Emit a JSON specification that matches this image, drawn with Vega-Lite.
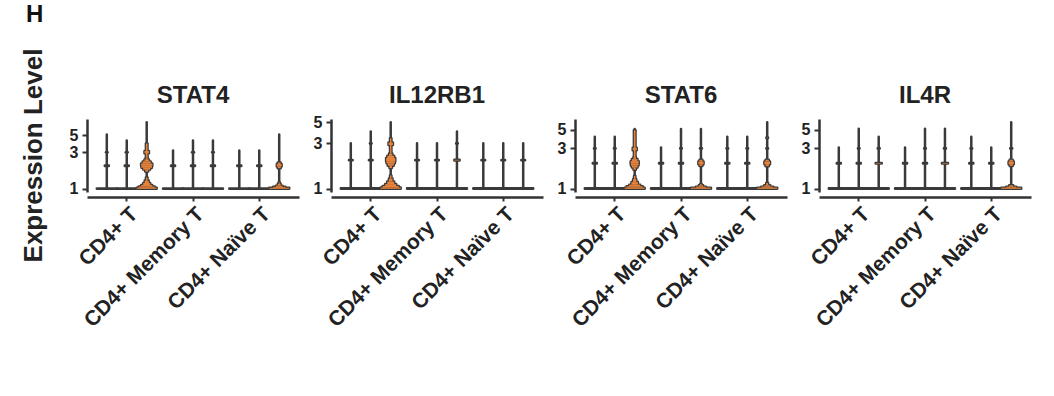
{
"$schema": "https://vega.github.io/schema/vega-lite/v6.json",
"padding": {"left": 20, "top": 2, "right": 5, "bottom": 5},
"background": "white",
"title": {"text": "H", "anchor": "start", "fontSize": 24, "fontWeight": "bold", "font": "Liberation Sans", "color": "#111", "offset": 22, "dx": 5},
"config": {
  "view": {"stroke": null},
  "axis": {"domainColor": "#333", "tickColor": "#333", "labelColor": "#222", "labelFont": "Liberation Sans", "titleFont": "Liberation Sans", "grid": false}
},
"datasets": {"v": [
{"gene":"STAT4","group":"CD4+ T","cond":"a","lo":1,"hi":1.012,"w":1},
{"gene":"STAT4","group":"CD4+ T","cond":"a","lo":1,"hi":5.1,"w":0},
{"gene":"STAT4","group":"CD4+ T","cond":"a","lo":1.99,"hi":2.01,"w":0.2},
{"gene":"STAT4","group":"CD4+ T","cond":"a","lo":2.99,"hi":3.01,"w":0.08},
{"gene":"STAT4","group":"CD4+ T","cond":"b","lo":1,"hi":1.012,"w":1},
{"gene":"STAT4","group":"CD4+ T","cond":"b","lo":1,"hi":4.27,"w":0},
{"gene":"STAT4","group":"CD4+ T","cond":"b","lo":1.99,"hi":2.01,"w":0.2},
{"gene":"STAT4","group":"CD4+ T","cond":"b","lo":2.99,"hi":3.01,"w":0.1},
{"gene":"STAT4","group":"CD4+ T","cond":"c","lo":1,"hi":7.4,"w":0},
{"gene":"STAT4","group":"CD4+ T","cond":"c","lo":1,"hi":1.03,"w":1},
{"gene":"STAT4","group":"CD4+ T","cond":"c","lo":1.03,"hi":1.07,"w":0.8},
{"gene":"STAT4","group":"CD4+ T","cond":"c","lo":1.07,"hi":1.12,"w":0.55},
{"gene":"STAT4","group":"CD4+ T","cond":"c","lo":1.12,"hi":1.19,"w":0.35},
{"gene":"STAT4","group":"CD4+ T","cond":"c","lo":1.19,"hi":1.28,"w":0.2},
{"gene":"STAT4","group":"CD4+ T","cond":"c","lo":1.28,"hi":1.4,"w":0.08},
{"gene":"STAT4","group":"CD4+ T","cond":"c","lo":1.68,"hi":1.78,"w":0.15},
{"gene":"STAT4","group":"CD4+ T","cond":"c","lo":1.78,"hi":1.88,"w":0.35},
{"gene":"STAT4","group":"CD4+ T","cond":"c","lo":1.88,"hi":2.0,"w":0.52},
{"gene":"STAT4","group":"CD4+ T","cond":"c","lo":2.0,"hi":2.14,"w":0.56},
{"gene":"STAT4","group":"CD4+ T","cond":"c","lo":2.14,"hi":2.28,"w":0.4},
{"gene":"STAT4","group":"CD4+ T","cond":"c","lo":2.28,"hi":2.42,"w":0.22},
{"gene":"STAT4","group":"CD4+ T","cond":"c","lo":2.42,"hi":2.56,"w":0.08},
{"gene":"STAT4","group":"CD4+ T","cond":"c","lo":2.56,"hi":3.9,"w":0.08},
{"gene":"STAT4","group":"CD4+ T","cond":"c","lo":2.9,"hi":3.12,"w":0.22},
{"gene":"STAT4","group":"CD4+ Memory T","cond":"a","lo":1,"hi":1.012,"w":1},
{"gene":"STAT4","group":"CD4+ Memory T","cond":"a","lo":1,"hi":3.17,"w":0},
{"gene":"STAT4","group":"CD4+ Memory T","cond":"a","lo":1.99,"hi":2.01,"w":0.2},
{"gene":"STAT4","group":"CD4+ Memory T","cond":"b","lo":1,"hi":1.012,"w":1},
{"gene":"STAT4","group":"CD4+ Memory T","cond":"b","lo":1,"hi":4.27,"w":0},
{"gene":"STAT4","group":"CD4+ Memory T","cond":"b","lo":1.99,"hi":2.01,"w":0.2},
{"gene":"STAT4","group":"CD4+ Memory T","cond":"b","lo":2.99,"hi":3.01,"w":0.1},
{"gene":"STAT4","group":"CD4+ Memory T","cond":"c","lo":1,"hi":1.012,"w":1},
{"gene":"STAT4","group":"CD4+ Memory T","cond":"c","lo":1,"hi":4.27,"w":0},
{"gene":"STAT4","group":"CD4+ Memory T","cond":"c","lo":1.99,"hi":2.01,"w":0.2},
{"gene":"STAT4","group":"CD4+ Memory T","cond":"c","lo":2.99,"hi":3.01,"w":0.08},
{"gene":"STAT4","group":"CD4+ Naïve T","cond":"a","lo":1,"hi":1.012,"w":1},
{"gene":"STAT4","group":"CD4+ Naïve T","cond":"a","lo":1,"hi":3.17,"w":0},
{"gene":"STAT4","group":"CD4+ Naïve T","cond":"a","lo":1.99,"hi":2.01,"w":0.2},
{"gene":"STAT4","group":"CD4+ Naïve T","cond":"b","lo":1,"hi":1.012,"w":1},
{"gene":"STAT4","group":"CD4+ Naïve T","cond":"b","lo":1,"hi":3.17,"w":0},
{"gene":"STAT4","group":"CD4+ Naïve T","cond":"b","lo":1.99,"hi":2.01,"w":0.2},
{"gene":"STAT4","group":"CD4+ Naïve T","cond":"c","lo":1,"hi":5.1,"w":0},
{"gene":"STAT4","group":"CD4+ Naïve T","cond":"c","lo":1,"hi":1.03,"w":1},
{"gene":"STAT4","group":"CD4+ Naïve T","cond":"c","lo":1.03,"hi":1.06,"w":0.6},
{"gene":"STAT4","group":"CD4+ Naïve T","cond":"c","lo":1.06,"hi":1.1,"w":0.32},
{"gene":"STAT4","group":"CD4+ Naïve T","cond":"c","lo":1.1,"hi":1.16,"w":0.14},
{"gene":"STAT4","group":"CD4+ Naïve T","cond":"c","lo":1.16,"hi":1.22,"w":0.05},
{"gene":"STAT4","group":"CD4+ Naïve T","cond":"c","lo":1.86,"hi":1.95,"w":0.14},
{"gene":"STAT4","group":"CD4+ Naïve T","cond":"c","lo":1.95,"hi":2.1,"w":0.24},
{"gene":"STAT4","group":"CD4+ Naïve T","cond":"c","lo":2.1,"hi":2.2,"w":0.14},

{"gene":"IL12RB1","group":"CD4+ T","cond":"a","lo":1,"hi":1.012,"w":1},
{"gene":"IL12RB1","group":"CD4+ T","cond":"a","lo":1,"hi":3.0,"w":0},
{"gene":"IL12RB1","group":"CD4+ T","cond":"a","lo":1.99,"hi":2.01,"w":0.18},
{"gene":"IL12RB1","group":"CD4+ T","cond":"b","lo":1,"hi":1.012,"w":1},
{"gene":"IL12RB1","group":"CD4+ T","cond":"b","lo":1,"hi":4.0,"w":0},
{"gene":"IL12RB1","group":"CD4+ T","cond":"b","lo":1.99,"hi":2.01,"w":0.18},
{"gene":"IL12RB1","group":"CD4+ T","cond":"b","lo":2.99,"hi":3.01,"w":0.08},
{"gene":"IL12RB1","group":"CD4+ T","cond":"c","lo":1,"hi":5.0,"w":0},
{"gene":"IL12RB1","group":"CD4+ T","cond":"c","lo":1,"hi":1.03,"w":1},
{"gene":"IL12RB1","group":"CD4+ T","cond":"c","lo":1.03,"hi":1.07,"w":0.8},
{"gene":"IL12RB1","group":"CD4+ T","cond":"c","lo":1.07,"hi":1.12,"w":0.55},
{"gene":"IL12RB1","group":"CD4+ T","cond":"c","lo":1.12,"hi":1.19,"w":0.35},
{"gene":"IL12RB1","group":"CD4+ T","cond":"c","lo":1.19,"hi":1.28,"w":0.18},
{"gene":"IL12RB1","group":"CD4+ T","cond":"c","lo":1.28,"hi":1.38,"w":0.07},
{"gene":"IL12RB1","group":"CD4+ T","cond":"c","lo":1.65,"hi":1.75,"w":0.12},
{"gene":"IL12RB1","group":"CD4+ T","cond":"c","lo":1.75,"hi":1.85,"w":0.3},
{"gene":"IL12RB1","group":"CD4+ T","cond":"c","lo":1.85,"hi":1.95,"w":0.42},
{"gene":"IL12RB1","group":"CD4+ T","cond":"c","lo":1.95,"hi":2.1,"w":0.46},
{"gene":"IL12RB1","group":"CD4+ T","cond":"c","lo":2.1,"hi":2.22,"w":0.34},
{"gene":"IL12RB1","group":"CD4+ T","cond":"c","lo":2.22,"hi":2.34,"w":0.16},
{"gene":"IL12RB1","group":"CD4+ T","cond":"c","lo":2.34,"hi":3.4,"w":0.07},
{"gene":"IL12RB1","group":"CD4+ T","cond":"c","lo":2.88,"hi":3.06,"w":0.22},
{"gene":"IL12RB1","group":"CD4+ Memory T","cond":"a","lo":1,"hi":1.012,"w":1},
{"gene":"IL12RB1","group":"CD4+ Memory T","cond":"a","lo":1,"hi":3.0,"w":0},
{"gene":"IL12RB1","group":"CD4+ Memory T","cond":"a","lo":1.99,"hi":2.01,"w":0.18},
{"gene":"IL12RB1","group":"CD4+ Memory T","cond":"b","lo":1,"hi":1.012,"w":1},
{"gene":"IL12RB1","group":"CD4+ Memory T","cond":"b","lo":1,"hi":3.0,"w":0},
{"gene":"IL12RB1","group":"CD4+ Memory T","cond":"b","lo":1.99,"hi":2.01,"w":0.18},
{"gene":"IL12RB1","group":"CD4+ Memory T","cond":"c","lo":1,"hi":1.012,"w":1},
{"gene":"IL12RB1","group":"CD4+ Memory T","cond":"c","lo":1,"hi":4.0,"w":0},
{"gene":"IL12RB1","group":"CD4+ Memory T","cond":"c","lo":1.985,"hi":2.015,"w":0.26},
{"gene":"IL12RB1","group":"CD4+ Memory T","cond":"c","lo":2.99,"hi":3.01,"w":0.08},
{"gene":"IL12RB1","group":"CD4+ Naïve T","cond":"a","lo":1,"hi":1.012,"w":1},
{"gene":"IL12RB1","group":"CD4+ Naïve T","cond":"a","lo":1,"hi":3.0,"w":0},
{"gene":"IL12RB1","group":"CD4+ Naïve T","cond":"a","lo":1.99,"hi":2.01,"w":0.18},
{"gene":"IL12RB1","group":"CD4+ Naïve T","cond":"b","lo":1,"hi":1.012,"w":1},
{"gene":"IL12RB1","group":"CD4+ Naïve T","cond":"b","lo":1,"hi":3.0,"w":0},
{"gene":"IL12RB1","group":"CD4+ Naïve T","cond":"b","lo":1.99,"hi":2.01,"w":0.18},
{"gene":"IL12RB1","group":"CD4+ Naïve T","cond":"c","lo":1,"hi":1.012,"w":1},
{"gene":"IL12RB1","group":"CD4+ Naïve T","cond":"c","lo":1,"hi":3.0,"w":0},
{"gene":"IL12RB1","group":"CD4+ Naïve T","cond":"c","lo":1.99,"hi":2.01,"w":0.18},

{"gene":"STAT6","group":"CD4+ T","cond":"a","lo":1,"hi":1.012,"w":1},
{"gene":"STAT6","group":"CD4+ T","cond":"a","lo":1,"hi":4.12,"w":0},
{"gene":"STAT6","group":"CD4+ T","cond":"a","lo":1.99,"hi":2.01,"w":0.2},
{"gene":"STAT6","group":"CD4+ T","cond":"a","lo":2.99,"hi":3.01,"w":0.08},
{"gene":"STAT6","group":"CD4+ T","cond":"b","lo":1,"hi":1.012,"w":1},
{"gene":"STAT6","group":"CD4+ T","cond":"b","lo":1,"hi":4.12,"w":0},
{"gene":"STAT6","group":"CD4+ T","cond":"b","lo":1.99,"hi":2.01,"w":0.2},
{"gene":"STAT6","group":"CD4+ T","cond":"b","lo":2.99,"hi":3.01,"w":0.08},
{"gene":"STAT6","group":"CD4+ T","cond":"c","lo":1,"hi":5.08,"w":0},
{"gene":"STAT6","group":"CD4+ T","cond":"c","lo":1,"hi":1.03,"w":1},
{"gene":"STAT6","group":"CD4+ T","cond":"c","lo":1.03,"hi":1.07,"w":0.8},
{"gene":"STAT6","group":"CD4+ T","cond":"c","lo":1.07,"hi":1.12,"w":0.55},
{"gene":"STAT6","group":"CD4+ T","cond":"c","lo":1.12,"hi":1.2,"w":0.32},
{"gene":"STAT6","group":"CD4+ T","cond":"c","lo":1.2,"hi":1.3,"w":0.16},
{"gene":"STAT6","group":"CD4+ T","cond":"c","lo":1.3,"hi":1.42,"w":0.07},
{"gene":"STAT6","group":"CD4+ T","cond":"c","lo":1.68,"hi":1.78,"w":0.12},
{"gene":"STAT6","group":"CD4+ T","cond":"c","lo":1.78,"hi":1.88,"w":0.28},
{"gene":"STAT6","group":"CD4+ T","cond":"c","lo":1.88,"hi":2.0,"w":0.38},
{"gene":"STAT6","group":"CD4+ T","cond":"c","lo":2.0,"hi":2.12,"w":0.4},
{"gene":"STAT6","group":"CD4+ T","cond":"c","lo":2.12,"hi":2.24,"w":0.28},
{"gene":"STAT6","group":"CD4+ T","cond":"c","lo":2.24,"hi":2.36,"w":0.12},
{"gene":"STAT6","group":"CD4+ T","cond":"c","lo":2.36,"hi":4.9,"w":0.08},
{"gene":"STAT6","group":"CD4+ T","cond":"c","lo":2.85,"hi":3.05,"w":0.2},
{"gene":"STAT6","group":"CD4+ Memory T","cond":"a","lo":1,"hi":1.012,"w":1},
{"gene":"STAT6","group":"CD4+ Memory T","cond":"a","lo":1,"hi":3.07,"w":0},
{"gene":"STAT6","group":"CD4+ Memory T","cond":"a","lo":1.99,"hi":2.01,"w":0.2},
{"gene":"STAT6","group":"CD4+ Memory T","cond":"b","lo":1,"hi":1.012,"w":1},
{"gene":"STAT6","group":"CD4+ Memory T","cond":"b","lo":1,"hi":5.08,"w":0},
{"gene":"STAT6","group":"CD4+ Memory T","cond":"b","lo":1.99,"hi":2.01,"w":0.2},
{"gene":"STAT6","group":"CD4+ Memory T","cond":"b","lo":2.99,"hi":3.01,"w":0.08},
{"gene":"STAT6","group":"CD4+ Memory T","cond":"c","lo":1,"hi":5.08,"w":0},
{"gene":"STAT6","group":"CD4+ Memory T","cond":"c","lo":1,"hi":1.03,"w":1},
{"gene":"STAT6","group":"CD4+ Memory T","cond":"c","lo":1.03,"hi":1.06,"w":0.5},
{"gene":"STAT6","group":"CD4+ Memory T","cond":"c","lo":1.06,"hi":1.1,"w":0.22},
{"gene":"STAT6","group":"CD4+ Memory T","cond":"c","lo":1.1,"hi":1.14,"w":0.07},
{"gene":"STAT6","group":"CD4+ Memory T","cond":"c","lo":1.86,"hi":1.95,"w":0.14},
{"gene":"STAT6","group":"CD4+ Memory T","cond":"c","lo":1.95,"hi":2.1,"w":0.26},
{"gene":"STAT6","group":"CD4+ Memory T","cond":"c","lo":2.1,"hi":2.2,"w":0.14},
{"gene":"STAT6","group":"CD4+ Memory T","cond":"c","lo":2.99,"hi":3.01,"w":0.1},
{"gene":"STAT6","group":"CD4+ Naïve T","cond":"a","lo":1,"hi":1.012,"w":1},
{"gene":"STAT6","group":"CD4+ Naïve T","cond":"a","lo":1,"hi":4.12,"w":0},
{"gene":"STAT6","group":"CD4+ Naïve T","cond":"a","lo":1.99,"hi":2.01,"w":0.2},
{"gene":"STAT6","group":"CD4+ Naïve T","cond":"a","lo":2.99,"hi":3.01,"w":0.08},
{"gene":"STAT6","group":"CD4+ Naïve T","cond":"b","lo":1,"hi":1.012,"w":1},
{"gene":"STAT6","group":"CD4+ Naïve T","cond":"b","lo":1,"hi":4.12,"w":0},
{"gene":"STAT6","group":"CD4+ Naïve T","cond":"b","lo":1.99,"hi":2.01,"w":0.2},
{"gene":"STAT6","group":"CD4+ Naïve T","cond":"b","lo":2.99,"hi":3.01,"w":0.08},
{"gene":"STAT6","group":"CD4+ Naïve T","cond":"c","lo":1,"hi":6.1,"w":0},
{"gene":"STAT6","group":"CD4+ Naïve T","cond":"c","lo":1,"hi":1.03,"w":1},
{"gene":"STAT6","group":"CD4+ Naïve T","cond":"c","lo":1.03,"hi":1.06,"w":0.6},
{"gene":"STAT6","group":"CD4+ Naïve T","cond":"c","lo":1.06,"hi":1.1,"w":0.3},
{"gene":"STAT6","group":"CD4+ Naïve T","cond":"c","lo":1.1,"hi":1.17,"w":0.1},
{"gene":"STAT6","group":"CD4+ Naïve T","cond":"c","lo":1.85,"hi":1.95,"w":0.16},
{"gene":"STAT6","group":"CD4+ Naïve T","cond":"c","lo":1.95,"hi":2.1,"w":0.28},
{"gene":"STAT6","group":"CD4+ Naïve T","cond":"c","lo":2.1,"hi":2.2,"w":0.16},
{"gene":"STAT6","group":"CD4+ Naïve T","cond":"c","lo":2.99,"hi":3.01,"w":0.08},
{"gene":"STAT6","group":"CD4+ Naïve T","cond":"c","lo":3.98,"hi":4.02,"w":0.08},

{"gene":"IL4R","group":"CD4+ T","cond":"a","lo":1,"hi":1.012,"w":1},
{"gene":"IL4R","group":"CD4+ T","cond":"a","lo":1,"hi":3.07,"w":0},
{"gene":"IL4R","group":"CD4+ T","cond":"a","lo":1.99,"hi":2.01,"w":0.2},
{"gene":"IL4R","group":"CD4+ T","cond":"b","lo":1,"hi":1.012,"w":1},
{"gene":"IL4R","group":"CD4+ T","cond":"b","lo":1,"hi":5.1,"w":0},
{"gene":"IL4R","group":"CD4+ T","cond":"b","lo":1.99,"hi":2.01,"w":0.2},
{"gene":"IL4R","group":"CD4+ T","cond":"b","lo":2.99,"hi":3.01,"w":0.08},
{"gene":"IL4R","group":"CD4+ T","cond":"c","lo":1,"hi":1.012,"w":1},
{"gene":"IL4R","group":"CD4+ T","cond":"c","lo":1,"hi":4.12,"w":0},
{"gene":"IL4R","group":"CD4+ T","cond":"c","lo":1.985,"hi":2.015,"w":0.3},
{"gene":"IL4R","group":"CD4+ T","cond":"c","lo":2.99,"hi":3.01,"w":0.1},
{"gene":"IL4R","group":"CD4+ Memory T","cond":"a","lo":1,"hi":1.012,"w":1},
{"gene":"IL4R","group":"CD4+ Memory T","cond":"a","lo":1,"hi":3.07,"w":0},
{"gene":"IL4R","group":"CD4+ Memory T","cond":"a","lo":1.99,"hi":2.01,"w":0.2},
{"gene":"IL4R","group":"CD4+ Memory T","cond":"b","lo":1,"hi":1.012,"w":1},
{"gene":"IL4R","group":"CD4+ Memory T","cond":"b","lo":1,"hi":5.1,"w":0},
{"gene":"IL4R","group":"CD4+ Memory T","cond":"b","lo":1.99,"hi":2.01,"w":0.2},
{"gene":"IL4R","group":"CD4+ Memory T","cond":"b","lo":2.99,"hi":3.01,"w":0.08},
{"gene":"IL4R","group":"CD4+ Memory T","cond":"c","lo":1,"hi":1.012,"w":1},
{"gene":"IL4R","group":"CD4+ Memory T","cond":"c","lo":1,"hi":5.1,"w":0},
{"gene":"IL4R","group":"CD4+ Memory T","cond":"c","lo":1.985,"hi":2.015,"w":0.3},
{"gene":"IL4R","group":"CD4+ Memory T","cond":"c","lo":2.99,"hi":3.01,"w":0.1},
{"gene":"IL4R","group":"CD4+ Naïve T","cond":"a","lo":1,"hi":1.012,"w":1},
{"gene":"IL4R","group":"CD4+ Naïve T","cond":"a","lo":1,"hi":4.12,"w":0},
{"gene":"IL4R","group":"CD4+ Naïve T","cond":"a","lo":1.99,"hi":2.01,"w":0.2},
{"gene":"IL4R","group":"CD4+ Naïve T","cond":"a","lo":2.99,"hi":3.01,"w":0.08},
{"gene":"IL4R","group":"CD4+ Naïve T","cond":"b","lo":1,"hi":1.012,"w":1},
{"gene":"IL4R","group":"CD4+ Naïve T","cond":"b","lo":1,"hi":3.07,"w":0},
{"gene":"IL4R","group":"CD4+ Naïve T","cond":"b","lo":1.99,"hi":2.01,"w":0.2},
{"gene":"IL4R","group":"CD4+ Naïve T","cond":"c","lo":1,"hi":6.1,"w":0},
{"gene":"IL4R","group":"CD4+ Naïve T","cond":"c","lo":1,"hi":1.03,"w":1},
{"gene":"IL4R","group":"CD4+ Naïve T","cond":"c","lo":1.03,"hi":1.06,"w":0.5},
{"gene":"IL4R","group":"CD4+ Naïve T","cond":"c","lo":1.06,"hi":1.1,"w":0.2},
{"gene":"IL4R","group":"CD4+ Naïve T","cond":"c","lo":1.86,"hi":1.95,"w":0.15},
{"gene":"IL4R","group":"CD4+ Naïve T","cond":"c","lo":1.95,"hi":2.1,"w":0.26},
{"gene":"IL4R","group":"CD4+ Naïve T","cond":"c","lo":2.1,"hi":2.2,"w":0.15},
{"gene":"IL4R","group":"CD4+ Naïve T","cond":"c","lo":2.99,"hi":3.01,"w":0.1}
]},
"data": {"name": "v"},
"facet": {
  "row": {"field": "ylab", "type": "nominal", "title": null,
          "header": {"labelExpr": "'Expression Level'", "labelAngle": -90, "labelFontSize": 26, "labelFontWeight": "bold", "labelFont": "Liberation Sans", "labelColor": "#222", "labelPadding": 9}},
  "column": {"field": "gene", "type": "nominal", "sort": ["STAT4", "IL12RB1", "STAT6", "IL4R"], "title": null,
             "header": {"labelFontSize": 24, "labelFontWeight": "bold", "labelFont": "Liberation Sans", "labelColor": "#222", "labelPadding": 6}}
},
"spacing": {"column": 14, "row": 0},
"resolve": {"scale": {"y": "independent"}},
"spec": {
  "width": 212, "height": 73,
  "encoding": {
    "x": {"field": "group", "type": "nominal", "sort": ["CD4+ T", "CD4+ Memory T", "CD4+ Naïve T"], "scale": {"paddingInner": 0, "paddingOuter": 0.1},
          "axis": {"title": null, "labelAngle": -45, "labelAlign": "right", "labelBaseline": "top", "labelFontSize": 21, "labelFontWeight": "bold", "tickSize": 4, "tickWidth": 2, "domainWidth": 2.5, "labelPadding": 2}},
    "xOffset": {"field": "cond", "type": "nominal", "sort": ["a", "b", "c"], "scale": {"paddingInner": 0, "paddingOuter": 0.16}},
    "y": {"field": "lo", "type": "quantitative", "scale": {"type": "log", "nice": false, "zero": false, "padding": 3.2},
          "axis": {"values": [1, 3, 5], "title": null, "labelFontSize": 16, "labelFontWeight": "bold", "tickSize": 5, "tickWidth": 2, "domainWidth": 2.5, "labelOverlap": false, "labelPadding": 4}},
    "y2": {"field": "hi"},
    "size": {"field": "w", "type": "quantitative", "scale": {"domain": [0, 1], "range": [0, 20]}, "legend": null}
  },
  "layer": [
    {"mark": {"type": "bar", "fill": "#3a3a3a", "stroke": "#3a3a3a", "strokeWidth": 2.5, "strokeJoin": "round"}},
    {"transform": [{"filter": "datum.hi - datum.lo > 0.025"}], "mark": {"type": "bar", "fill": "#e8823a", "strokeWidth": 0}}
  ]
}
}
